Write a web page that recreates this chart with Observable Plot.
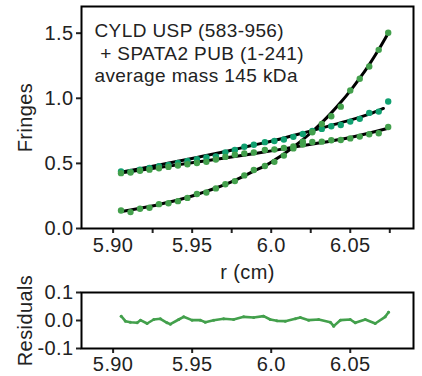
<!DOCTYPE html>
<html><head><meta charset="utf-8">
<script src="https://cdn.jsdelivr.net/npm/d3@7"></script>
<script src="https://cdn.jsdelivr.net/npm/@observablehq/plot@0.6"></script>
<style>
body{margin:0;background:#fff;}
#chart{width:422px;height:376px;}
#chart svg{overflow:visible;display:block;}
#chart text{letter-spacing:0.4px;}
</style></head><body><div id="chart"></div>
<script>
// radial positions (cm) of the scan points
const radius = [5.905, 5.911, 5.917, 5.923, 5.929, 5.935, 5.941, 5.947, 5.953, 5.959, 5.965, 5.971, 5.977, 5.983, 5.989, 5.996, 6.002, 6.008, 6.014, 6.020, 6.026, 6.032, 6.038, 6.044, 6.050, 6.056, 6.062, 6.068, 6.074];
// measured fringes, three scans
const fringesA = [0.138, 0.126, 0.152, 0.159, 0.187, 0.194, 0.210, 0.235, 0.265, 0.277, 0.308, 0.340, 0.364, 0.408, 0.449, 0.480, 0.512, 0.560, 0.615, 0.666, 0.739, 0.803, 0.862, 0.936, 1.060, 1.150, 1.244, 1.372, 1.503];
const fringesB = [0.438, 0.435, 0.452, 0.465, 0.478, 0.488, 0.503, 0.518, 0.533, 0.546, 0.554, 0.585, 0.603, 0.628, 0.643, 0.663, 0.672, 0.684, 0.704, 0.726, 0.749, 0.765, 0.785, 0.795, 0.821, 0.842, 0.888, 0.898, 0.975];
const fringesC = [0.425, 0.430, 0.443, 0.452, 0.463, 0.473, 0.484, 0.493, 0.503, 0.512, 0.530, 0.550, 0.566, 0.576, 0.584, 0.603, 0.607, 0.618, 0.630, 0.645, 0.664, 0.667, 0.678, 0.680, 0.692, 0.706, 0.724, 0.732, 0.780];
// fitted curves
const fitA = [0.130, 0.142, 0.155, 0.169, 0.184, 0.201, 0.219, 0.239, 0.261, 0.285, 0.311, 0.339, 0.370, 0.404, 0.441, 0.481, 0.525, 0.573, 0.626, 0.683, 0.745, 0.813, 0.888, 0.969, 1.057, 1.154, 1.259, 1.374, 1.500];
const fitBRadius = [5.905, 5.917, 5.929, 5.941, 5.953, 5.965, 5.977, 5.989, 6.002, 6.014, 6.026, 6.038, 6.050, 6.062, 6.071];
const fitB = [0.432, 0.459, 0.487, 0.516, 0.546, 0.576, 0.607, 0.641, 0.676, 0.714, 0.752, 0.792, 0.832, 0.878, 0.922];
const fitCRadius = [5.905, 5.929, 5.953, 5.977, 6.002, 6.026, 6.050, 6.074];
const fitC = [0.427, 0.468, 0.510, 0.553, 0.600, 0.648, 0.699, 0.770];
// residuals
const resRadius = [5.9051, 5.9078, 5.9109, 5.9152, 5.9173, 5.9215, 5.9257, 5.9299, 5.9341, 5.9362, 5.9415, 5.9446, 5.9499, 5.9552, 5.9583, 5.9636, 5.9699, 5.9762, 5.9826, 5.9889, 5.9952, 5.9994, 6.0036, 6.0089, 6.0152, 6.0184, 6.0237, 6.0300, 6.0374, 6.0395, 6.0437, 6.0500, 6.0532, 6.0595, 6.0658, 6.0721, 6.0742];
const resValues = [0.0155, -0.0024, -0.0060, -0.0083, 0.0012, -0.0107, 0.0036, 0.0060, -0.0083, -0.0131, 0.0036, 0.0131, 0.0012, 0.0012, -0.0060, 0.0012, 0.0060, 0.0036, 0.0131, 0.0107, 0.0155, 0.0036, -0.0012, -0.0024, 0.0060, 0.0107, 0.0012, 0.0036, -0.0060, -0.0202, 0.0012, 0.0036, -0.0083, 0.0036, -0.0107, 0.0131, 0.0298];
// ticks and labels
const xTicks = [5.90, 5.95, 6.00, 6.05];
const xTickLabels = ["5.90", "5.95", "6.0", "6.05"];
const xMinorTicks = [5.925, 5.975, 6.025, 6.075];
const yTicks = [0, 0.5, 1.0, 1.5];
const yTickLabels = ["0.0", "0.5", "1.0", "1.5"];
const resTicks = [-0.1, 0, 0.1];
const resTickLabels = ["-0.1", "0.0", "0.1"];
const annotation = ["CYLD USP (583-956)", "\u00a0+ SPATA2 PUB (1-241)", "average mass 145 kDa"];

const green = "#43a04c";
const teal = "#10a070";
const font = "'Liberation Sans', Arial, Helvetica, sans-serif";
const style = {fontFamily: font, fontSize: "20px", color: "#222", background: "transparent", overflow: "visible"};
const xFmt = d => xTickLabels[xTicks.indexOf(d)];

const topPlot = Plot.plot({
  width: 422, height: 280,
  marginLeft: 81, marginRight: 9, marginTop: 6, marginBottom: 52,
  style,
  x: {domain: [5.88, 6.09]},
  y: {domain: [0, 1.705]},
  marks: [
    Plot.axisX({ticks: xMinorTicks, tickSize: 5, strokeWidth: 2, tickFormat: () => "", label: null}),
    Plot.axisX({ticks: xTicks, tickSize: 5, strokeWidth: 2, tickPadding: 4, tickFormat: xFmt, fontSize: 20, label: "r (cm)", labelArrow: "none", labelAnchor: "center", labelOffset: 50}),
    Plot.axisY({ticks: yTicks, tickSize: 5, strokeWidth: 2, tickPadding: 3, tickFormat: d => yTickLabels[yTicks.indexOf(d)], fontSize: 20, label: "Fringes", labelArrow: "none", labelAnchor: "center", labelOffset: 64}),
    Plot.frame({stroke: "black", strokeWidth: 2}),
    Plot.line(fitB, {x: fitBRadius, y: fitB, curve: "natural", stroke: "black", strokeWidth: 3}),
    Plot.line(fitC, {x: fitCRadius, y: fitC, curve: "natural", stroke: "black", strokeWidth: 3}),
    Plot.line(fitA, {x: radius, y: fitA, curve: "natural", stroke: "black", strokeWidth: 3}),
    Plot.dot(fringesB, {x: radius, y: fringesB, r: 3.2, fill: teal}),
    Plot.dot(fringesC, {x: radius, y: fringesC, r: 3.2, fill: green}),
    Plot.dot(fringesA, {x: radius, y: fringesA, r: 3.2, fill: green}),
    Plot.text([annotation.join("\n")], {text: d => d, frameAnchor: "top-left", dx: 13, dy: 15, lineAnchor: "top", textAnchor: "start", lineHeight: 1.18, fontSize: 19, fill: "#222"})
  ]
});

const bottomPlot = Plot.plot({
  width: 422, height: 96,
  marginLeft: 81, marginRight: 9, marginTop: 12, marginBottom: 28,
  style,
  x: {domain: [5.88, 6.09]},
  y: {domain: [-0.1, 0.1]},
  marks: [
    Plot.axisX({ticks: xTicks, tickSize: 5, strokeWidth: 2, tickPadding: 3, tickFormat: xFmt, fontSize: 20, label: null}),
    Plot.axisY({ticks: resTicks, tickSize: 5, strokeWidth: 2, tickPadding: 3, tickFormat: d => resTickLabels[resTicks.indexOf(d)], fontSize: 20, label: "Residuals", labelArrow: "none", labelAnchor: "center", labelOffset: 64}),
    Plot.frame({stroke: "black", strokeWidth: 2}),
    Plot.line(resValues, {x: resRadius, y: resValues, stroke: green, strokeWidth: 2.6}),
    Plot.dot(resValues, {x: resRadius, y: resValues, r: 1.5, fill: green})
  ]
});

document.getElementById("chart").append(topPlot, bottomPlot);
</script></body></html>
